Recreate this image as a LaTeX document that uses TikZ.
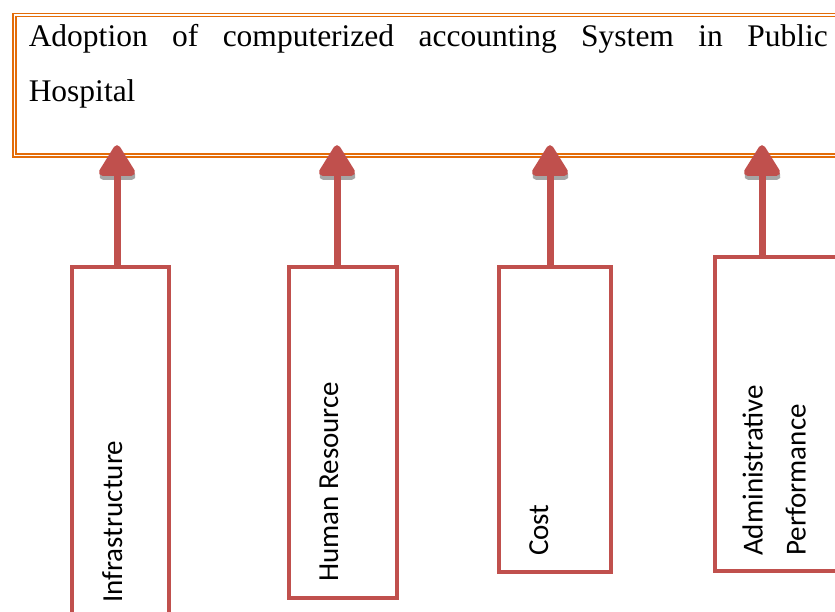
\documentclass[tikz,border=0pt]{standalone}
\usepackage{fontspec}
\setmainfont{Liberation Serif}
\newfontfamily\labelfont{Carlito}
\usetikzlibrary{arrows.meta}
\definecolor{boxorange}{RGB}{227,108,9}
\definecolor{factred}{RGB}{192,80,77}
\definecolor{shadowgray}{RGB}{166,166,166}
\tikzset{
  titlebox/.style={draw=boxorange, double=white, line width=1.5pt, double distance=1.5pt,
    anchor=north west, text width=799pt, inner xsep=14.5pt, inner ysep=9.5pt,
    align=justify, font=\fontsize{31.5}{55}\selectfont},
  factbox/.style={draw=factred, line width=4pt, anchor=north west, inner sep=0pt},
  factlabel/.style={rotate=90, inner sep=0pt, font=\labelfont\fontsize{29}{43}\selectfont},
  factarrow/.style={draw=factred, line width=7pt, -{Triangle[length=34pt,width=40pt,round]}, shorten >=-11pt},
  arrowshadow/.style={factarrow, draw=shadowgray, fill=shadowgray, transform canvas={xshift=0.5pt,yshift=-4pt}, shorten <=4pt}
}
\begin{document}
\begin{tikzpicture}[x=1pt,y=-1pt]
  \useasboundingbox (0,0) rectangle (835,611);
  \node[titlebox] (title) at (13.5,14) {Adoption of computerized accounting System in Public\linebreak Hospital\rule[-44.5pt]{0pt}{1pt}};
  \node[factbox, minimum width=97pt, minimum height=380pt] (infra) at (70,264.5) {};
  \node[factbox, minimum width=108.5pt, minimum height=331pt] (hr) at (286.5,264.5) {};
  \node[factbox, minimum width=111.5pt, minimum height=305pt] (cost) at (497,264.5) {};
  \node[factbox, minimum width=150pt, minimum height=314pt] (admin) at (713,255) {};
  \node[factlabel, anchor=base west] (infra-text) at (122,603) {Infrastructure};
  \node[factlabel, anchor=base west] (hr-text) at (338,582) {Human Resource};
  \node[factlabel, anchor=base west] (cost-text) at (548,556) {Cost};
  \node[factlabel, anchor=south west, align=left] (admin-text) at (806,556) {Administrative\\Performance};
  % arrows from the factors up to the title
  \foreach \n/\dx in {infra/47,hr/50.5,cost/53,admin/49}{
    \draw[arrowshadow] ([xshift=\dx pt]\n.north west) -- ([xshift=\dx pt]\n.north west |- title.south);
    \draw[factarrow] ([xshift=\dx pt]\n.north west) -- ([xshift=\dx pt]\n.north west |- title.south);
  }
\end{tikzpicture}
\end{document}
